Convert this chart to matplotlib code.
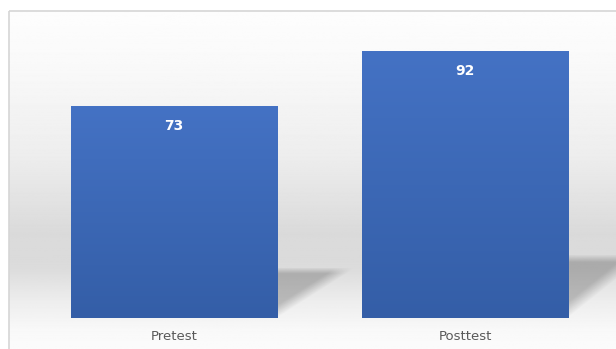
import numpy as np
import matplotlib
matplotlib.use("Agg")
import matplotlib.pyplot as plt
from matplotlib.patches import Polygon, Rectangle

categories = ["Pretest", "Posttest"]
scores = [73, 92]

W, H = 616, 349
fig = plt.figure(figsize=(W / 100, H / 100), dpi=100)

# background panel: white -> gray -> white vertical gradient, thin border
bg = fig.add_axes([0, 0, 1, 1])
bg.set_xlim(0, W); bg.set_ylim(H, 0); bg.axis("off")
yy = np.linspace(0, H, 400)
stops_y = [11, 60, 150, 230, 265, 300, 330, 349]
stops_v = [0.99, 0.975, 0.93, 0.855, 0.86, 0.93, 0.975, 0.985]
col = np.interp(yy, stops_y, stops_v)
bg.imshow(np.repeat(col[:, None], 2, axis=1), cmap="gray", vmin=0, vmax=1,
          extent=(9, W + 5, H, 11), aspect="auto", origin="upper")
bg.add_patch(Rectangle((9, 11), W, H, fill=False, ec="#d6d6d6", lw=1.2))
bg.set_xlim(0, W); bg.set_ylim(H, 0)

# plot axes: bar centres at 174 and 465 px, zero at y=318
unit = 291.0
left, right = 9, W
ax = fig.add_axes([left / W, (H - 318) / H, (right - left) / W, 290 / H])
ax.patch.set_alpha(0)
ax.set_xlim(-(174 - left) / unit, (right - 174) / unit)
ax.set_ylim(0, 100)
for s in ax.spines.values():
    s.set_visible(False)
ax.set_yticks([])
ax.set_xticks(range(len(categories)))
ax.set_xticklabels(categories, color="#595959", fontsize=9.5)
ax.tick_params(axis="x", length=0, pad=9)

bw = 206 / unit
bars = ax.bar(range(len(scores)), scores, width=bw, color="#3e6bba",
              edgecolor="none", zorder=3)

# shadows cast to the right of each bar
sw = 80 / unit
u = np.linspace(0, 1, 120)
U, V = np.meshgrid(u, u)
d = np.clip((V - U) * 4, 0, 1) * np.clip((1 - V) * 8, 0, 1)
shade = np.zeros((120, 120, 4))
shade[..., 3] = 0.22 * d
for b in bars:
    xr = b.get_x() + b.get_width()
    hs = 0.23 * b.get_height() * 1.03
    poly = Polygon([(xr, 0), (xr, hs), (xr + sw, hs)], closed=True,
                   fc="none", ec="none", transform=ax.transData)
    ax.add_patch(poly)
    im = ax.imshow(shade, extent=(xr, xr + sw, 0, hs), origin="lower",
                   aspect="auto", zorder=2, interpolation="bilinear")
    im.set_clip_path(poly)

# blue vertical gradient inside bars
grad = np.linspace(0, 1, 200)[:, None]
top = np.array([0x44, 0x72, 0xc4]) / 255
bot = np.array([0x34, 0x5e, 0xa7]) / 255
img = (bot + (top - bot) * grad)[:, None, :].repeat(2, axis=1).reshape(200, 2, 3)
for b, v in zip(bars, scores):
    x0 = b.get_x()
    im = ax.imshow(img, extent=(x0, x0 + b.get_width(), 0, b.get_height()),
                   origin="lower", aspect="auto", zorder=4)
    im.set_clip_path(b)
    ax.annotate(str(v), (b.get_x() + b.get_width() / 2, v),
                xytext=(0, -14.5), textcoords="offset points", ha="center",
                va="center", color="white", fontsize=10, fontweight="bold",
                zorder=5)

ax.set_xlim(-(174 - left) / unit, (right - 174) / unit)
ax.set_ylim(0, 100)

fig.savefig("out.png", dpi=100)
